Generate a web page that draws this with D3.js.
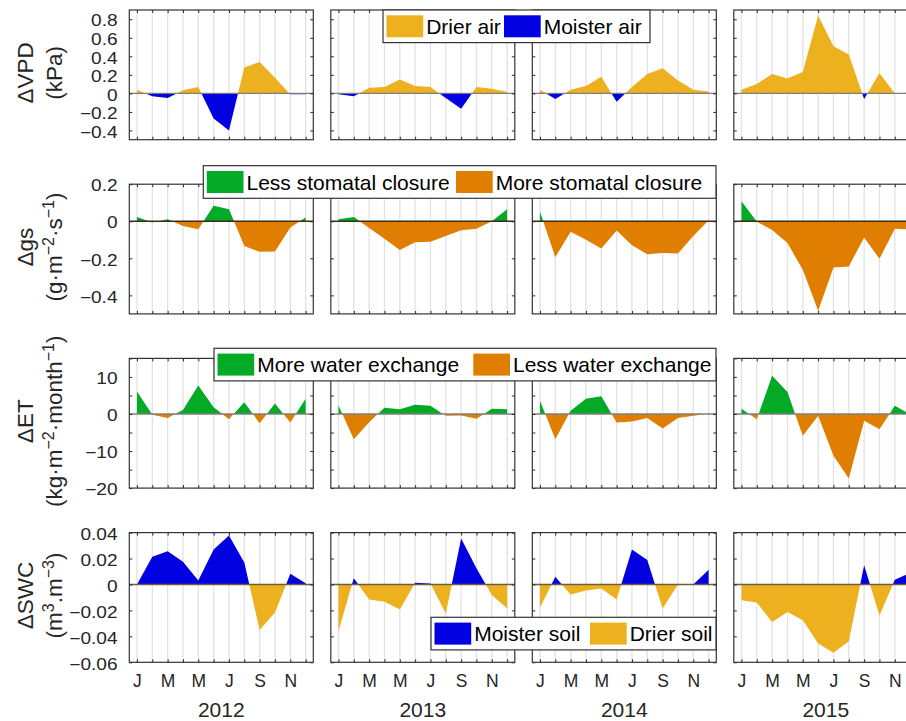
<!DOCTYPE html>
<html>
<head>
<meta charset="utf-8">
<script src="https://cdn.jsdelivr.net/npm/d3@7"></script>
<style>
  body { margin: 0; background: #fff; }
  svg { display: block; font-family: "Liberation Sans", Arial, Helvetica, sans-serif; }
</style>
</head>
<body>
<svg id="chart" width="906" height="721"></svg>
<script>
// Data (monthly anomalies, Jan..Dec of each year)
const years = ["2012", "2013", "2014", "2015"];
const months = [1, 2, 3, 4, 5, 6, 7, 8, 9, 10, 11, 12];
const monthLabels = ["J", "", "M", "", "M", "", "J", "", "S", "", "N", ""];

const vpdValues = [
  [0.04, -0.03, -0.05, 0.035, 0.07, -0.27, -0.40, 0.28, 0.34, 0.17, -0.01, -0.01],
  [-0.01, -0.03, 0.06, 0.07, 0.15, 0.08, 0.07, -0.05, -0.165, 0.07, 0.05, 0.015],
  [0.04, -0.06, 0.04, 0.08, 0.18, -0.09, 0.07, 0.21, 0.27, 0.14, 0.04, 0.02],
  [0.04, 0.10, 0.21, 0.16, 0.23, 0.84, 0.51, 0.42, -0.06, 0.22, 0.0, 0.01]
];
const gsValues = [
  [0.023, -0.007, 0.011, -0.025, -0.043, 0.084, 0.065, -0.133, -0.165, -0.163, -0.034, 0.02],
  [0.011, 0.023, -0.036, -0.095, -0.155, -0.113, -0.11, -0.079, -0.048, -0.04, 0.0, 0.065],
  [0.052, -0.194, -0.057, -0.1, -0.147, -0.05, -0.129, -0.178, -0.171, -0.174, -0.079, 0.005],
  [0.108, -0.002, -0.047, -0.118, -0.262, -0.483, -0.25, -0.244, -0.088, -0.203, -0.04, -0.045]
];
const etValues = [
  [6.1, -0.2, -1.1, 1.1, 7.7, 1.8, -1.4, 3.2, -2.5, 2.8, -2.3, 4.1],
  [2.3, -6.8, -2.2, 1.7, 1.3, 2.5, 2.2, -0.5, -0.4, -1.3, 1.4, 1.3],
  [3.6, -6.8, 0.9, 4.1, 4.8, -2.3, -2.0, -1.1, -3.9, -1.1, -0.5, 0.1],
  [1.4, -1.4, 10.3, 5.9, -5.9, -0.5, -11.3, -17.4, -1.8, -4.1, 2.2, -0.1]
];
const swcValues = [
  [0, 0.0213, 0.0257, 0.0175, 0.003, 0.027, 0.0378, 0.017, -0.035, -0.0216, 0.0082, 0.001],
  [-0.036, 0.0049, -0.0116, -0.0134, -0.0193, 0.0013, 0.0008, -0.0224, 0.0355, 0.0126, -0.0082, -0.0185],
  [-0.0177, 0.0059, -0.0077, -0.0046, -0.0031, -0.0116, 0.027, 0.0188, -0.0185, 0, 0, 0.0113],
  [-0.0121, -0.0139, -0.029, -0.0213, -0.0275, -0.0455, -0.0527, -0.0437, 0.0149, -0.0239, 0.0036, 0.009]
];

const vpdTicks = [-0.4, -0.2, 0, 0.2, 0.4, 0.6, 0.8];
const gsTicks = [-0.4, -0.2, 0, 0.2];
const etTicks = [-20, -15, -10, -5, 0, 5, 10, 15];
const swcTicks = [-0.06, -0.04, -0.02, 0, 0.02, 0.04];

const vpdLegend = ["Drier air", "Moister air"];
const gsLegend = ["Less stomatal closure", "More stomatal closure"];
const etLegend = ["More water exchange", "Less water exchange"];
const swcLegend = ["Moister soil", "Drier soil"];

// Colours
const YELLOW = "#EDB120", BLUE = "#0000E1", GREEN = "#02AA26", ORANGE = "#DF7E00";
const INK = "#262626";

const rows = [
  { values: vpdValues, domain: [-0.5, 0.9], ticks: vpdTicks, labelEvery: null,
    pos: YELLOW, neg: BLUE, zero: "#7f7f7f",
    label: [[["\u0394VPD", 0]], [["(kPa)", 0]]],
    legend: { names: vpdLegend, colors: [YELLOW, BLUE], left: 383, right: 650, top: 10, second: 504 } },
  { values: gsValues, domain: [-0.5, 0.2], ticks: gsTicks, labelEvery: null,
    pos: GREEN, neg: ORANGE, zero: "#3a2c18",
    label: [[["\u0394gs", 0]], [["(g\u00b7m", 0], ["\u22122", 1], ["\u00b7s", 0], ["\u22121", 1], [")", 0]]],
    legend: { names: gsLegend, colors: [GREEN, ORANGE], left: 203.3, right: 716, top: 165.7, second: 456 } },
  { values: etValues, domain: [-20, 15], ticks: etTicks, labelEvery: 10,
    pos: GREEN, neg: ORANGE, zero: "#7f7f7f",
    label: [[["\u0394ET", 0]], [["(kg\u00b7m", 0], ["\u22122", 1], ["\u00b7month", 0], ["\u22121", 1], [")", 0]]],
    legend: { names: etLegend, colors: [GREEN, ORANGE], left: 214, right: 716, top: 348.3, second: 473.3 } },
  { values: swcValues, domain: [-0.06, 0.04], ticks: swcTicks, labelEvery: null,
    pos: BLUE, neg: YELLOW, zero: "#6b5c42",
    label: [[["\u0394SWC", 0]], [["(m", 0], ["3", 1], [".m", 0], ["\u22123", 1], [")", 0]]],
    legend: { names: swcLegend, colors: [BLUE, YELLOW], left: 431, right: 716, top: 617.3, second: 590 } }
];

// Layout
const panelLeft0 = 129.3, colStep = 201.5, pw = 184;
const panelTop0 = 10, rowStep = 174.2, ph = 129.7;

const svg = d3.select("#chart");
const fmtTick = v => (v < 0 ? "\u2212" : "") + String(Math.abs(v));

// insert zero crossings so the positive / negative fills meet on the baseline
function splitAtZero(vals) {
  const pts = [];
  vals.forEach((v, i) => {
    pts.push({ m: i + 1, v: v });
    const nx = vals[i + 1];
    if (nx !== undefined && v * nx < 0) {
      const t = v / (v - nx);
      pts.push({ m: i + 1 + t, v: 0 });
    }
  });
  return pts;
}

function styleAxis(g, size) {
  g.select(".domain").remove();
  g.attr("font-family", null).attr("font-size", size).attr("color", INK);
  g.selectAll(".tick line").attr("stroke-width", 1);
  g.selectAll("text").attr("fill", INK);
}

rows.forEach((row, r) => {
  const top = panelTop0 + r * rowStep;
  const y = d3.scaleLinear().domain(row.domain).range([top + ph, top]);

  years.forEach((yr, c) => {
    const left = panelLeft0 + c * colStep;
    const x = d3.scaleLinear().domain([0.5, 12.5]).range([left, left + pw]);
    const g = svg.append("g");

    // vertical month grid
    g.selectAll("line.grid").data(months).join("line")
      .attr("class", "grid")
      .attr("x1", d => x(d)).attr("x2", d => x(d))
      .attr("y1", top).attr("y2", top + ph)
      .attr("stroke", "#e2e2e2").attr("stroke-width", 1.3);

    const pts = splitAtZero(row.values[c]);
    const area = d3.area().x(d => x(d.m)).y0(y(0));
    g.append("path").attr("d", area.y1(d => y(Math.max(d.v, 0)))(pts)).attr("fill", row.pos);
    g.append("path").attr("d", area.y1(d => y(Math.min(d.v, 0)))(pts)).attr("fill", row.neg);

    g.append("line")
      .attr("x1", left).attr("x2", left + pw)
      .attr("y1", y(0)).attr("y2", y(0))
      .attr("stroke", row.zero).attr("stroke-width", 1.4);

    // axes: inward ticks on all four sides
    const yLeft = d3.axisLeft(y).tickValues(row.ticks).tickSize(-3).tickPadding(11.8)
      .tickFormat(d => {
        if (c !== 0) return "";
        if (row.labelEvery && d % row.labelEvery !== 0) return "";
        return fmtTick(d);
      });
    const ga = g.append("g").attr("transform", `translate(${left},0)`).call(yLeft);
    styleAxis(ga, "16px");
    // tick digits in the figure are wide and short: stretch horizontally
    ga.selectAll("text").attr("dy", "0.42em").each(function () {
      const w = this.getComputedTextLength();
      if (w > 0) {
        d3.select(this).attr("textLength", w * 1.19).attr("lengthAdjust", "spacingAndGlyphs");
      }
    });

    const gr = g.append("g").attr("transform", `translate(${left + pw},0)`)
      .call(d3.axisRight(y).tickValues(row.ticks).tickSize(-3).tickFormat(""));
    styleAxis(gr, "16px");

    const gt = g.append("g").attr("transform", `translate(0,${top})`)
      .call(d3.axisTop(x).tickValues(months).tickSize(-3).tickFormat(""));
    styleAxis(gt, "16px");

    const gb = g.append("g").attr("transform", `translate(0,${top + ph})`)
      .call(d3.axisBottom(x).tickValues(months).tickSize(-3).tickPadding(12.5)
        .tickFormat(d => (r === rows.length - 1 ? monthLabels[d - 1] : "")));
    styleAxis(gb, "17.5px");

    g.append("rect")
      .attr("x", left).attr("y", top).attr("width", pw).attr("height", ph)
      .attr("fill", "none").attr("stroke", "#333").attr("stroke-width", 1.2);
  });

  // y label (two rotated lines)
  const cy = top + ph / 2 - 2;
  const baseX = [32.5, 62];
  row.label.forEach((parts, li) => {
    const t = svg.append("text")
      .attr("transform", `translate(${baseX[li]},${cy}) rotate(-90)`)
      .attr("text-anchor", "middle")
      .attr("font-size", "22.5px")
      .attr("fill", INK);
    let sup = false;
    parts.forEach(([txt, isSup]) => {
      const ts = t.append("tspan").text(txt);
      if (isSup && !sup) ts.attr("dy", -8).attr("font-size", "16px");
      else if (isSup) ts.attr("font-size", "16px");
      else if (!isSup && sup) ts.attr("dy", 8);
      sup = !!isSup;
    });
  });
});

// year labels
svg.selectAll("text.year").data(years).join("text")
  .attr("class", "year")
  .attr("x", (d, i) => panelLeft0 + i * colStep + pw / 2)
  .attr("y", 717)
  .attr("text-anchor", "middle")
  .attr("font-size", "21px")
  .attr("fill", INK)
  .text(d => d);

// legends, drawn over the panels
rows.forEach(row => {
  const L = row.legend;
  const bh = 32.6, sw = 36.7, sh = 22;
  const g = svg.append("g");
  g.append("rect")
    .attr("x", L.left).attr("y", L.top).attr("width", L.right - L.left).attr("height", bh)
    .attr("fill", "#fff").attr("stroke", "#333").attr("stroke-width", 1.2);
  const starts = [L.left + 3.5, L.second];
  L.names.forEach((name, i) => {
    g.append("rect")
      .attr("x", starts[i]).attr("y", L.top + (bh - sh) / 2)
      .attr("width", sw).attr("height", sh)
      .attr("fill", L.colors[i]);
    g.append("text")
      .attr("x", starts[i] + sw + 3)
      .attr("y", L.top + bh / 2)
      .attr("dy", "0.36em")
      .attr("font-size", "21px")
      .attr("fill", "#000")
      .text(name);
  });
});
</script>
</body>
</html>
